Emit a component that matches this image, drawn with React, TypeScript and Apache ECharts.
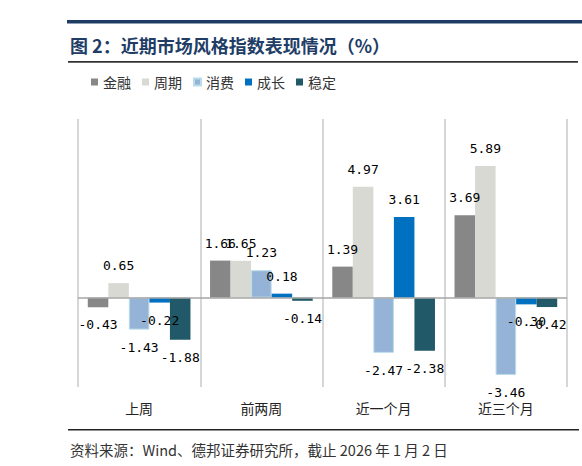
import { useEffect, useRef } from "react";
import * as echarts from "echarts";

const categories = ["上周", "前两周", "近一个月", "近三个月"];
const seriesNames = ["金融", "周期", "消费", "成长", "稳定"];
const finance = [-0.43, 1.66, 1.39, 3.69];
const cyclical = [0.65, 1.65, 4.97, 5.89];
const consumption = [-1.43, 1.23, -2.47, -3.46];
const growth = [-0.22, 0.18, 3.61, -0.3];
const stable = [-1.88, -0.14, -2.38, -0.42];

const colors = ["#878787", "#d9d9d4", "#95b3d7", "#0070c0", "#215968"];

export default function App() {
    const containerRef = useRef<HTMLDivElement | null>(null);

    useEffect(() => {
        if (!containerRef.current) return;
        document.body.style.margin = "0";

        const chart = echarts.init(containerRef.current, undefined, { renderer: "svg" });
        const values = [finance, cyclical, consumption, growth, stable];

        const series: any[] = seriesNames.map((name, i) => ({
            name,
            type: "bar",
            data: values[i],
            barGap: "0%",
            barCategoryGap: "16%",
            itemStyle: {
                color: colors[i],
                borderColor: i === 2 ? "#b9dcea" : undefined,
                borderWidth: i === 2 ? 1 : 0,
            },
            label: {
                show: true,
                position: "outside",
                distance: 11,
                color: "#000",
                fontSize: 13,
                fontFamily: "DejaVu Sans Mono",
                formatter: (p: any) => Number(p.value).toFixed(2),
            },
        }));

        // zero line
        series[0].markLine = {
            silent: true,
            symbol: "none",
            label: { show: false },
            lineStyle: { color: "#a6a6a6", type: "solid", width: 1.5 },
            data: [{ yAxis: 0 }],
        };

        const option: echarts.EChartsOption = {
            animation: false,
            backgroundColor: "#fff",
            color: colors,
            textStyle: { fontFamily: "Noto Sans CJK SC" },
            legend: {
                data: seriesNames,
                left: 91,
                top: 75,
                padding: 0,
                itemWidth: 7,
                itemHeight: 7,
                itemGap: 11,
                icon: "rect",
                textStyle: { fontSize: 14, color: "#333", fontFamily: "Noto Sans CJK SC" },
            },
            grid: { left: 78, right: 15, top: 119, bottom: 79 },
            xAxis: {
                type: "category",
                data: categories,
                axisLine: { show: false },
                axisTick: { show: false },
                axisLabel: { margin: 14, fontSize: 14, color: "#222", fontFamily: "Noto Sans CJK SC" },
                splitLine: { show: true, lineStyle: { color: "#c8c8c8", width: 1.5 } },
            },
            yAxis: {
                type: "value",
                min: -4,
                max: 8,
                interval: 2,
                show: false,
                splitLine: { show: false },
            },
            graphic: [
                { type: "rect", shape: { x: 67, y: 20, width: 515, height: 3.5 }, style: { fill: "#1f3c64" } },
                {
                    type: "text",
                    x: 70,
                    y: 45,
                    style: {
                        text: "图 2：近期市场风格指数表现情况（%）",
                        fill: "#213d66",
                        font: "bold 18px 'Noto Sans CJK SC'",
                        textVerticalAlign: "middle",
                    },
                },
                { type: "rect", shape: { x: 68, y: 61, width: 510, height: 1.8 }, style: { fill: "#333" } },
                { type: "rect", shape: { x: 68, y: 429, width: 511, height: 1.5 }, style: { fill: "#222" } },
                {
                    type: "text",
                    x: 70,
                    y: 449,
                    style: {
                        text: "资料来源：Wind、德邦证券研究所，截止 2026 年 1 月 2 日",
                        fill: "#333",
                        font: "14.5px 'Noto Sans CJK SC'",
                        textVerticalAlign: "middle",
                    },
                },
            ],
            series,
        };

        chart.setOption(option);

        return () => {
            chart.dispose();
        };
    }, []);

    return <div ref={containerRef} style={{ width: 582, height: 466 }} />;
}
